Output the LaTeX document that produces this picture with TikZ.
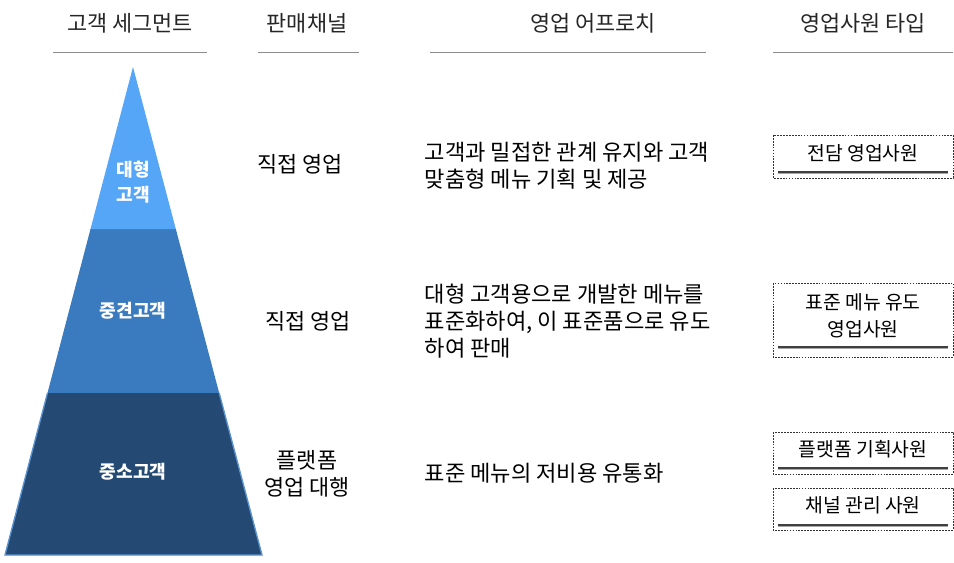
\documentclass[tikz,border=0pt]{standalone}
\usepackage{fontspec}
\setmainfont{Noto Sans CJK KR}
\usetikzlibrary{calc}
\definecolor{topblue}{HTML}{55A6F7}
\definecolor{midblue}{HTML}{3A7BBF}
\definecolor{lowblue}{HTML}{244A73}
\definecolor{edgeblue}{HTML}{5A93D0}

\begin{document}
\begin{tikzpicture}[x=0.75pt,y=-0.75pt]
  \tikzstyle{head}=[font=\fontsize{16.4}{18}\selectfont,text=black!85]
  \tikzstyle{rule}=[draw=black!45,line width=0.75pt]
  \tikzstyle{seg}=[font=\fontsize{13.6}{18.5}\selectfont\bfseries,text=white,align=center]
  \tikzstyle{chan}=[font=\fontsize{16.4}{20.5}\selectfont,text=black,align=center]
  \tikzstyle{appr}=[font=\fontsize{16.6}{20.5}\selectfont,text=black,align=left,anchor=west]
  \tikzstyle{staff}=[font=\fontsize{14.5}{20}\selectfont,text=black,align=center]
  \tikzstyle{dbox}=[draw=black!80,line width=0.6pt,dash pattern=on 1.3pt off 0.9pt]
  \tikzstyle{uline}=[draw=black!75,line width=0.9pt]

  \useasboundingbox (0,0) rectangle (954,563);
  \fill[white] (0,0) rectangle (954,563);

  % headers
  \node[head] (H1) at (130,23) {고객 세그먼트};
  \node[head] (H2) at (307,23) {판매채널};
  \node[head] (H3) at (593,23) {영업 어프로치};
  \node[head] (H4) at (863,23) {영업사원 타입};
  \draw[rule] (53,53) -- (207,53);
  \draw[rule] (258,53) -- (359,53);
  \draw[rule] (430,53) -- (706,53);
  \draw[rule] (773,53) -- (953,53);

  % pyramid
  \coordinate (apex) at (133,67);
  \coordinate (bl) at (5,555);
  \coordinate (br) at (262,555);
  \coordinate (l1) at ($(apex)!0.332!(bl)$);
  \coordinate (r1) at ($(apex)!0.332!(br)$);
  \coordinate (l2) at ($(apex)!0.668!(bl)$);
  \coordinate (r2) at ($(apex)!0.668!(br)$);
  \fill[lowblue] (l2) -- (r2) -- (br) -- (bl) -- cycle;
  \draw[edgeblue,line width=1pt] (r2) -- (br) -- (bl) -- (l2);
  \fill[midblue] (l1) -- (r1) -- (r2) -- (l2) -- cycle;
  \fill[topblue] (apex) -- (r1) -- (l1) -- cycle;

  \node[seg] (S1) at (133,182) {대형\\고객};
  \node[seg] (S2) at (133,311) {중견고객};
  \node[seg] (S3) at (133,472) {중소고객};

  % channels
  \node[chan] (C1) at (300,164) {직접 영업};
  \node[chan] (C2) at (308,321) {직접 영업};
  \node[chan] (C3) at (307,474) {플랫폼\\영업 대행};

  % approaches
  \node[appr] (A1) at (420,166) {고객과 밀접한 관계 유지와 고객\\맞춤형 메뉴 기획 및 제공};
  \node[appr] (A2) at (420,321) {대형 고객용으로 개발한 메뉴를\\표준화하여, 이 표준품으로 유도\\하여 판매};
  \node[appr] (A3) at (420,473) {표준 메뉴의 저비용 유통화};

  % staff types
  \draw[dbox] (773,135) rectangle (953,178);
  \draw[dbox] (773,283) rectangle (953,357);
  \draw[dbox] (773,432) rectangle (953,474);
  \draw[dbox] (773,488) rectangle (953,530);
  \foreach \y in {172,347,468,525} {
    \draw[uline] (778,\y) -- (948,\y);
    \draw[black!35,line width=0.6pt] (778,\y+1.6) -- (948,\y+1.6);
  }
  \node[staff] (T1) at (863,153) {전담 영업사원};
  \node[staff] (T2) at (863,316) {표준 메뉴 유도\\영업사원};
  \node[staff] (T3) at (863,449) {플랫폼 기획사원};
  \node[staff] (T4) at (863,505) {채널 관리 사원};
\end{tikzpicture}
\end{document}
